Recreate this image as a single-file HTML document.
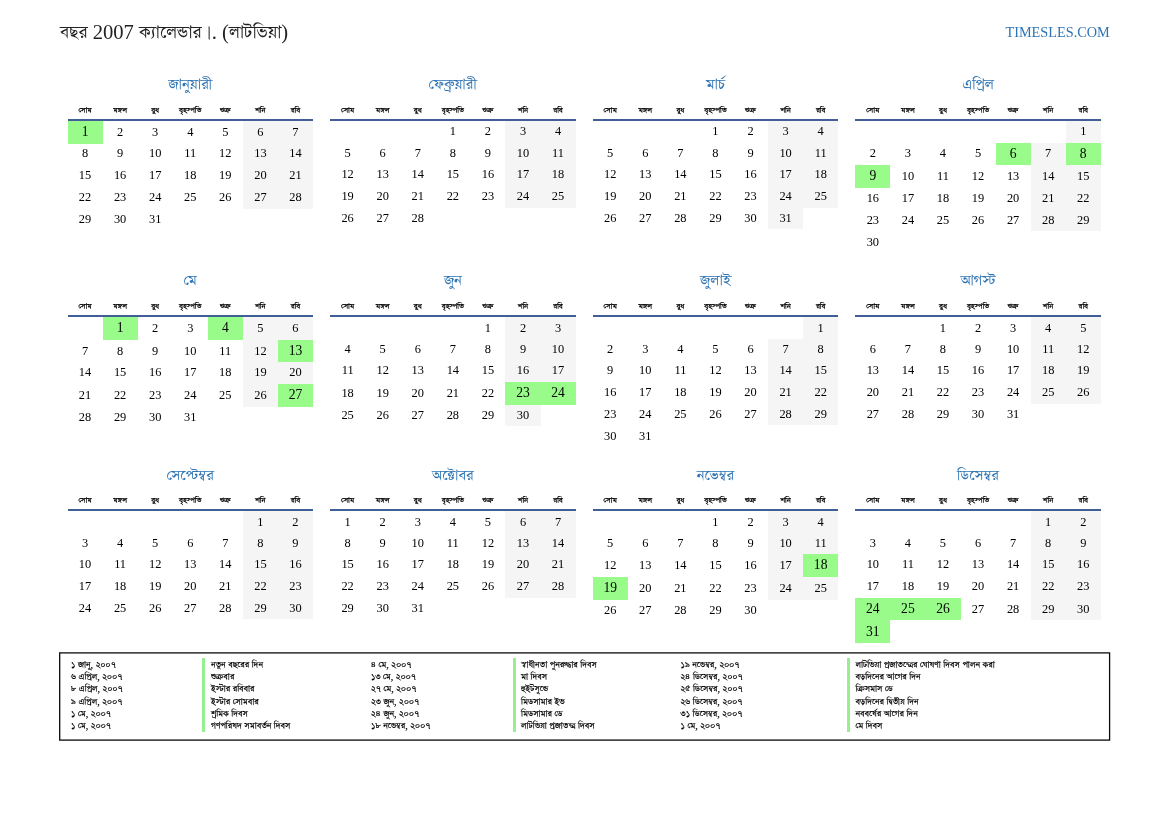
<!DOCTYPE html>
<html lang="bn"><head><meta charset="utf-8"><title>বছর 2007 ক্যালেন্ডার (লাটভিয়া)</title>
<style>
html,body{margin:0;padding:0;background:#fff}
body{width:1169px;height:827px;position:relative;overflow:hidden;font-family:"Liberation Serif","FreeSerif","FreeSans","Lohit Bengali","Noto Serif Bengali",serif;color:#000}
.a{position:absolute;white-space:nowrap}
.t{left:60px;top:18px;font-size:20.6px;line-height:28px;color:#222}
.s{right:59.3px;top:22px;font-size:14.28px;line-height:20px;color:#2e74b5}
.m{text-align:center;font-size:17.25px;line-height:24px;color:#2e74b5;width:245.5px}
.d{text-align:center;font-size:8.9px;line-height:12px;width:35.071px;color:#000;-webkit-text-stroke:0.25px #000}
.l{background:#3f5f96;width:245.5px;height:2.0px}
.c{text-align:center;font-size:12.4px;line-height:22.0px;height:22.0px;width:35.071px}
.e{font-size:13.6px;line-height:23px;height:23px}
.w{background:#f5f5f5}
.h{background:#98fb8a}
.g{font-size:10.15px;line-height:12px;-webkit-text-stroke:0.2px #000}
.b{width:2.7px;background:#96ef90}
</style></head><body>
<div class="a t">বছর 2007 ক্যালেন্ডার<span style="margin-left:2.7px">।</span>. (লাটভিয়া)</div>
<div class="a s">TIMESLES.COM</div>

<div class="a m" style="left:67.5px;top:73.1px">জানুয়ারী</div>
<div class="a d" style="left:67.50px;top:104.1px">সোম</div>
<div class="a d" style="left:102.57px;top:104.1px">মঙ্গল</div>
<div class="a d" style="left:137.64px;top:104.1px">বুধ</div>
<div class="a d" style="left:172.71px;top:104.1px">বৃহস্পতি</div>
<div class="a d" style="left:207.79px;top:104.1px">শুক্র</div>
<div class="a d" style="left:242.86px;top:104.1px">শনি</div>
<div class="a d" style="left:277.93px;top:104.1px">রবি</div>
<div class="a l" style="left:67.5px;top:119.1px"></div>
<div class="a h" style="left:68px;top:121px;width:35px;height:23px"></div>
<div class="a w" style="left:243px;top:121px;width:35px;height:23px"></div>
<div class="a w" style="left:278px;top:121px;width:35px;height:23px"></div>
<div class="a c e" style="left:67.50px;top:120.00px">1</div>
<div class="a c" style="left:102.57px;top:121.00px">2</div>
<div class="a c" style="left:137.64px;top:121.00px">3</div>
<div class="a c" style="left:172.71px;top:121.00px">4</div>
<div class="a c" style="left:207.79px;top:121.00px">5</div>
<div class="a c" style="left:242.86px;top:121.00px">6</div>
<div class="a c" style="left:277.93px;top:121.00px">7</div>
<div class="a w" style="left:243px;top:144px;width:35px;height:21px"></div>
<div class="a w" style="left:278px;top:144px;width:35px;height:21px"></div>
<div class="a c" style="left:67.50px;top:142.00px">8</div>
<div class="a c" style="left:102.57px;top:142.00px">9</div>
<div class="a c" style="left:137.64px;top:142.00px">10</div>
<div class="a c" style="left:172.71px;top:142.00px">11</div>
<div class="a c" style="left:207.79px;top:142.00px">12</div>
<div class="a c" style="left:242.86px;top:142.00px">13</div>
<div class="a c" style="left:277.93px;top:142.00px">14</div>
<div class="a w" style="left:243px;top:165px;width:35px;height:22px"></div>
<div class="a w" style="left:278px;top:165px;width:35px;height:22px"></div>
<div class="a c" style="left:67.50px;top:164.00px">15</div>
<div class="a c" style="left:102.57px;top:164.00px">16</div>
<div class="a c" style="left:137.64px;top:164.00px">17</div>
<div class="a c" style="left:172.71px;top:164.00px">18</div>
<div class="a c" style="left:207.79px;top:164.00px">19</div>
<div class="a c" style="left:242.86px;top:164.00px">20</div>
<div class="a c" style="left:277.93px;top:164.00px">21</div>
<div class="a w" style="left:243px;top:187px;width:35px;height:22px"></div>
<div class="a w" style="left:278px;top:187px;width:35px;height:22px"></div>
<div class="a c" style="left:67.50px;top:186.00px">22</div>
<div class="a c" style="left:102.57px;top:186.00px">23</div>
<div class="a c" style="left:137.64px;top:186.00px">24</div>
<div class="a c" style="left:172.71px;top:186.00px">25</div>
<div class="a c" style="left:207.79px;top:186.00px">26</div>
<div class="a c" style="left:242.86px;top:186.00px">27</div>
<div class="a c" style="left:277.93px;top:186.00px">28</div>
<div class="a c" style="left:67.50px;top:208.00px">29</div>
<div class="a c" style="left:102.57px;top:208.00px">30</div>
<div class="a c" style="left:137.64px;top:208.00px">31</div>
<div class="a m" style="left:330.1px;top:73.1px">ফেব্রুয়ারী</div>
<div class="a d" style="left:330.10px;top:104.1px">সোম</div>
<div class="a d" style="left:365.17px;top:104.1px">মঙ্গল</div>
<div class="a d" style="left:400.24px;top:104.1px">বুধ</div>
<div class="a d" style="left:435.31px;top:104.1px">বৃহস্পতি</div>
<div class="a d" style="left:470.39px;top:104.1px">শুক্র</div>
<div class="a d" style="left:505.46px;top:104.1px">শনি</div>
<div class="a d" style="left:540.53px;top:104.1px">রবি</div>
<div class="a l" style="left:330.1px;top:119.1px"></div>
<div class="a w" style="left:505px;top:121px;width:36px;height:22px"></div>
<div class="a w" style="left:541px;top:121px;width:35px;height:22px"></div>
<div class="a c" style="left:435.31px;top:120.00px">1</div>
<div class="a c" style="left:470.39px;top:120.00px">2</div>
<div class="a c" style="left:505.46px;top:120.00px">3</div>
<div class="a c" style="left:540.53px;top:120.00px">4</div>
<div class="a w" style="left:505px;top:143px;width:36px;height:21px"></div>
<div class="a w" style="left:541px;top:143px;width:35px;height:21px"></div>
<div class="a c" style="left:330.10px;top:142.00px">5</div>
<div class="a c" style="left:365.17px;top:142.00px">6</div>
<div class="a c" style="left:400.24px;top:142.00px">7</div>
<div class="a c" style="left:435.31px;top:142.00px">8</div>
<div class="a c" style="left:470.39px;top:142.00px">9</div>
<div class="a c" style="left:505.46px;top:142.00px">10</div>
<div class="a c" style="left:540.53px;top:142.00px">11</div>
<div class="a w" style="left:505px;top:164px;width:36px;height:22px"></div>
<div class="a w" style="left:541px;top:164px;width:35px;height:22px"></div>
<div class="a c" style="left:330.10px;top:163.00px">12</div>
<div class="a c" style="left:365.17px;top:163.00px">13</div>
<div class="a c" style="left:400.24px;top:163.00px">14</div>
<div class="a c" style="left:435.31px;top:163.00px">15</div>
<div class="a c" style="left:470.39px;top:163.00px">16</div>
<div class="a c" style="left:505.46px;top:163.00px">17</div>
<div class="a c" style="left:540.53px;top:163.00px">18</div>
<div class="a w" style="left:505px;top:186px;width:36px;height:22px"></div>
<div class="a w" style="left:541px;top:186px;width:35px;height:22px"></div>
<div class="a c" style="left:330.10px;top:185.00px">19</div>
<div class="a c" style="left:365.17px;top:185.00px">20</div>
<div class="a c" style="left:400.24px;top:185.00px">21</div>
<div class="a c" style="left:435.31px;top:185.00px">22</div>
<div class="a c" style="left:470.39px;top:185.00px">23</div>
<div class="a c" style="left:505.46px;top:185.00px">24</div>
<div class="a c" style="left:540.53px;top:185.00px">25</div>
<div class="a c" style="left:330.10px;top:207.00px">26</div>
<div class="a c" style="left:365.17px;top:207.00px">27</div>
<div class="a c" style="left:400.24px;top:207.00px">28</div>
<div class="a m" style="left:592.7px;top:73.1px">মার্চ</div>
<div class="a d" style="left:592.70px;top:104.1px">সোম</div>
<div class="a d" style="left:627.77px;top:104.1px">মঙ্গল</div>
<div class="a d" style="left:662.84px;top:104.1px">বুধ</div>
<div class="a d" style="left:697.91px;top:104.1px">বৃহস্পতি</div>
<div class="a d" style="left:732.99px;top:104.1px">শুক্র</div>
<div class="a d" style="left:768.06px;top:104.1px">শনি</div>
<div class="a d" style="left:803.13px;top:104.1px">রবি</div>
<div class="a l" style="left:592.7px;top:119.1px"></div>
<div class="a w" style="left:768px;top:121px;width:35px;height:22px"></div>
<div class="a w" style="left:803px;top:121px;width:35px;height:22px"></div>
<div class="a c" style="left:697.91px;top:120.00px">1</div>
<div class="a c" style="left:732.99px;top:120.00px">2</div>
<div class="a c" style="left:768.06px;top:120.00px">3</div>
<div class="a c" style="left:803.13px;top:120.00px">4</div>
<div class="a w" style="left:768px;top:143px;width:35px;height:21px"></div>
<div class="a w" style="left:803px;top:143px;width:35px;height:21px"></div>
<div class="a c" style="left:592.70px;top:142.00px">5</div>
<div class="a c" style="left:627.77px;top:142.00px">6</div>
<div class="a c" style="left:662.84px;top:142.00px">7</div>
<div class="a c" style="left:697.91px;top:142.00px">8</div>
<div class="a c" style="left:732.99px;top:142.00px">9</div>
<div class="a c" style="left:768.06px;top:142.00px">10</div>
<div class="a c" style="left:803.13px;top:142.00px">11</div>
<div class="a w" style="left:768px;top:164px;width:35px;height:22px"></div>
<div class="a w" style="left:803px;top:164px;width:35px;height:22px"></div>
<div class="a c" style="left:592.70px;top:163.00px">12</div>
<div class="a c" style="left:627.77px;top:163.00px">13</div>
<div class="a c" style="left:662.84px;top:163.00px">14</div>
<div class="a c" style="left:697.91px;top:163.00px">15</div>
<div class="a c" style="left:732.99px;top:163.00px">16</div>
<div class="a c" style="left:768.06px;top:163.00px">17</div>
<div class="a c" style="left:803.13px;top:163.00px">18</div>
<div class="a w" style="left:768px;top:186px;width:35px;height:22px"></div>
<div class="a w" style="left:803px;top:186px;width:35px;height:22px"></div>
<div class="a c" style="left:592.70px;top:185.00px">19</div>
<div class="a c" style="left:627.77px;top:185.00px">20</div>
<div class="a c" style="left:662.84px;top:185.00px">21</div>
<div class="a c" style="left:697.91px;top:185.00px">22</div>
<div class="a c" style="left:732.99px;top:185.00px">23</div>
<div class="a c" style="left:768.06px;top:185.00px">24</div>
<div class="a c" style="left:803.13px;top:185.00px">25</div>
<div class="a w" style="left:768px;top:208px;width:35px;height:21px"></div>
<div class="a c" style="left:592.70px;top:207.00px">26</div>
<div class="a c" style="left:627.77px;top:207.00px">27</div>
<div class="a c" style="left:662.84px;top:207.00px">28</div>
<div class="a c" style="left:697.91px;top:207.00px">29</div>
<div class="a c" style="left:732.99px;top:207.00px">30</div>
<div class="a c" style="left:768.06px;top:207.00px">31</div>
<div class="a m" style="left:855.3px;top:73.1px">এপ্রিল</div>
<div class="a d" style="left:855.30px;top:104.1px">সোম</div>
<div class="a d" style="left:890.37px;top:104.1px">মঙ্গল</div>
<div class="a d" style="left:925.44px;top:104.1px">বুধ</div>
<div class="a d" style="left:960.51px;top:104.1px">বৃহস্পতি</div>
<div class="a d" style="left:995.59px;top:104.1px">শুক্র</div>
<div class="a d" style="left:1030.66px;top:104.1px">শনি</div>
<div class="a d" style="left:1065.73px;top:104.1px">রবি</div>
<div class="a l" style="left:855.3px;top:119.1px"></div>
<div class="a w" style="left:1066px;top:121px;width:35px;height:22px"></div>
<div class="a c" style="left:1065.73px;top:120.00px">1</div>
<div class="a h" style="left:996px;top:143px;width:35px;height:22px"></div>
<div class="a w" style="left:1031px;top:143px;width:35px;height:22px"></div>
<div class="a h" style="left:1066px;top:143px;width:35px;height:22px"></div>
<div class="a c" style="left:855.30px;top:142.00px">2</div>
<div class="a c" style="left:890.37px;top:142.00px">3</div>
<div class="a c" style="left:925.44px;top:142.00px">4</div>
<div class="a c" style="left:960.51px;top:142.00px">5</div>
<div class="a c e" style="left:995.59px;top:142.00px">6</div>
<div class="a c" style="left:1030.66px;top:142.00px">7</div>
<div class="a c e" style="left:1065.73px;top:142.00px">8</div>
<div class="a h" style="left:855px;top:165px;width:35px;height:23px"></div>
<div class="a w" style="left:1031px;top:165px;width:35px;height:23px"></div>
<div class="a w" style="left:1066px;top:165px;width:35px;height:23px"></div>
<div class="a c e" style="left:855.30px;top:164.00px">9</div>
<div class="a c" style="left:890.37px;top:165.00px">10</div>
<div class="a c" style="left:925.44px;top:165.00px">11</div>
<div class="a c" style="left:960.51px;top:165.00px">12</div>
<div class="a c" style="left:995.59px;top:165.00px">13</div>
<div class="a c" style="left:1030.66px;top:165.00px">14</div>
<div class="a c" style="left:1065.73px;top:165.00px">15</div>
<div class="a w" style="left:1031px;top:188px;width:35px;height:22px"></div>
<div class="a w" style="left:1066px;top:188px;width:35px;height:22px"></div>
<div class="a c" style="left:855.30px;top:187.00px">16</div>
<div class="a c" style="left:890.37px;top:187.00px">17</div>
<div class="a c" style="left:925.44px;top:187.00px">18</div>
<div class="a c" style="left:960.51px;top:187.00px">19</div>
<div class="a c" style="left:995.59px;top:187.00px">20</div>
<div class="a c" style="left:1030.66px;top:187.00px">21</div>
<div class="a c" style="left:1065.73px;top:187.00px">22</div>
<div class="a w" style="left:1031px;top:210px;width:35px;height:21px"></div>
<div class="a w" style="left:1066px;top:210px;width:35px;height:21px"></div>
<div class="a c" style="left:855.30px;top:209.00px">23</div>
<div class="a c" style="left:890.37px;top:209.00px">24</div>
<div class="a c" style="left:925.44px;top:209.00px">25</div>
<div class="a c" style="left:960.51px;top:209.00px">26</div>
<div class="a c" style="left:995.59px;top:209.00px">27</div>
<div class="a c" style="left:1030.66px;top:209.00px">28</div>
<div class="a c" style="left:1065.73px;top:209.00px">29</div>
<div class="a c" style="left:855.30px;top:231.00px">30</div>
<div class="a m" style="left:67.5px;top:269.1px">মে</div>
<div class="a d" style="left:67.50px;top:300.1px">সোম</div>
<div class="a d" style="left:102.57px;top:300.1px">মঙ্গল</div>
<div class="a d" style="left:137.64px;top:300.1px">বুধ</div>
<div class="a d" style="left:172.71px;top:300.1px">বৃহস্পতি</div>
<div class="a d" style="left:207.79px;top:300.1px">শুক্র</div>
<div class="a d" style="left:242.86px;top:300.1px">শনি</div>
<div class="a d" style="left:277.93px;top:300.1px">রবি</div>
<div class="a l" style="left:67.5px;top:315.1px"></div>
<div class="a h" style="left:103px;top:317px;width:35px;height:23px"></div>
<div class="a h" style="left:208px;top:317px;width:35px;height:23px"></div>
<div class="a w" style="left:243px;top:317px;width:35px;height:23px"></div>
<div class="a w" style="left:278px;top:317px;width:35px;height:23px"></div>
<div class="a c e" style="left:102.57px;top:316.00px">1</div>
<div class="a c" style="left:137.64px;top:317.00px">2</div>
<div class="a c" style="left:172.71px;top:317.00px">3</div>
<div class="a c e" style="left:207.79px;top:316.00px">4</div>
<div class="a c" style="left:242.86px;top:317.00px">5</div>
<div class="a c" style="left:277.93px;top:317.00px">6</div>
<div class="a w" style="left:243px;top:340px;width:35px;height:22px"></div>
<div class="a h" style="left:278px;top:340px;width:35px;height:22px"></div>
<div class="a c" style="left:67.50px;top:340.00px">7</div>
<div class="a c" style="left:102.57px;top:340.00px">8</div>
<div class="a c" style="left:137.64px;top:340.00px">9</div>
<div class="a c" style="left:172.71px;top:340.00px">10</div>
<div class="a c" style="left:207.79px;top:340.00px">11</div>
<div class="a c" style="left:242.86px;top:340.00px">12</div>
<div class="a c e" style="left:277.93px;top:339.00px">13</div>
<div class="a w" style="left:243px;top:362px;width:35px;height:22px"></div>
<div class="a w" style="left:278px;top:362px;width:35px;height:22px"></div>
<div class="a c" style="left:67.50px;top:361.00px">14</div>
<div class="a c" style="left:102.57px;top:361.00px">15</div>
<div class="a c" style="left:137.64px;top:361.00px">16</div>
<div class="a c" style="left:172.71px;top:361.00px">17</div>
<div class="a c" style="left:207.79px;top:361.00px">18</div>
<div class="a c" style="left:242.86px;top:361.00px">19</div>
<div class="a c" style="left:277.93px;top:361.00px">20</div>
<div class="a w" style="left:243px;top:384px;width:35px;height:23px"></div>
<div class="a h" style="left:278px;top:384px;width:35px;height:23px"></div>
<div class="a c" style="left:67.50px;top:384.00px">21</div>
<div class="a c" style="left:102.57px;top:384.00px">22</div>
<div class="a c" style="left:137.64px;top:384.00px">23</div>
<div class="a c" style="left:172.71px;top:384.00px">24</div>
<div class="a c" style="left:207.79px;top:384.00px">25</div>
<div class="a c" style="left:242.86px;top:384.00px">26</div>
<div class="a c e" style="left:277.93px;top:383.00px">27</div>
<div class="a c" style="left:67.50px;top:406.00px">28</div>
<div class="a c" style="left:102.57px;top:406.00px">29</div>
<div class="a c" style="left:137.64px;top:406.00px">30</div>
<div class="a c" style="left:172.71px;top:406.00px">31</div>
<div class="a m" style="left:330.1px;top:269.1px">জুন</div>
<div class="a d" style="left:330.10px;top:300.1px">সোম</div>
<div class="a d" style="left:365.17px;top:300.1px">মঙ্গল</div>
<div class="a d" style="left:400.24px;top:300.1px">বুধ</div>
<div class="a d" style="left:435.31px;top:300.1px">বৃহস্পতি</div>
<div class="a d" style="left:470.39px;top:300.1px">শুক্র</div>
<div class="a d" style="left:505.46px;top:300.1px">শনি</div>
<div class="a d" style="left:540.53px;top:300.1px">রবি</div>
<div class="a l" style="left:330.1px;top:315.1px"></div>
<div class="a w" style="left:505px;top:317px;width:36px;height:22px"></div>
<div class="a w" style="left:541px;top:317px;width:35px;height:22px"></div>
<div class="a c" style="left:470.39px;top:317.00px">1</div>
<div class="a c" style="left:505.46px;top:317.00px">2</div>
<div class="a c" style="left:540.53px;top:317.00px">3</div>
<div class="a w" style="left:505px;top:339px;width:36px;height:21px"></div>
<div class="a w" style="left:541px;top:339px;width:35px;height:21px"></div>
<div class="a c" style="left:330.10px;top:338.00px">4</div>
<div class="a c" style="left:365.17px;top:338.00px">5</div>
<div class="a c" style="left:400.24px;top:338.00px">6</div>
<div class="a c" style="left:435.31px;top:338.00px">7</div>
<div class="a c" style="left:470.39px;top:338.00px">8</div>
<div class="a c" style="left:505.46px;top:338.00px">9</div>
<div class="a c" style="left:540.53px;top:338.00px">10</div>
<div class="a w" style="left:505px;top:360px;width:36px;height:22px"></div>
<div class="a w" style="left:541px;top:360px;width:35px;height:22px"></div>
<div class="a c" style="left:330.10px;top:359.00px">11</div>
<div class="a c" style="left:365.17px;top:359.00px">12</div>
<div class="a c" style="left:400.24px;top:359.00px">13</div>
<div class="a c" style="left:435.31px;top:359.00px">14</div>
<div class="a c" style="left:470.39px;top:359.00px">15</div>
<div class="a c" style="left:505.46px;top:359.00px">16</div>
<div class="a c" style="left:540.53px;top:359.00px">17</div>
<div class="a h" style="left:505px;top:382px;width:36px;height:23px"></div>
<div class="a h" style="left:541px;top:382px;width:35px;height:23px"></div>
<div class="a c" style="left:330.10px;top:382.00px">18</div>
<div class="a c" style="left:365.17px;top:382.00px">19</div>
<div class="a c" style="left:400.24px;top:382.00px">20</div>
<div class="a c" style="left:435.31px;top:382.00px">21</div>
<div class="a c" style="left:470.39px;top:382.00px">22</div>
<div class="a c e" style="left:505.46px;top:381.00px">23</div>
<div class="a c e" style="left:540.53px;top:381.00px">24</div>
<div class="a w" style="left:505px;top:405px;width:36px;height:21px"></div>
<div class="a c" style="left:330.10px;top:404.00px">25</div>
<div class="a c" style="left:365.17px;top:404.00px">26</div>
<div class="a c" style="left:400.24px;top:404.00px">27</div>
<div class="a c" style="left:435.31px;top:404.00px">28</div>
<div class="a c" style="left:470.39px;top:404.00px">29</div>
<div class="a c" style="left:505.46px;top:404.00px">30</div>
<div class="a m" style="left:592.7px;top:269.1px">জুলাই</div>
<div class="a d" style="left:592.70px;top:300.1px">সোম</div>
<div class="a d" style="left:627.77px;top:300.1px">মঙ্গল</div>
<div class="a d" style="left:662.84px;top:300.1px">বুধ</div>
<div class="a d" style="left:697.91px;top:300.1px">বৃহস্পতি</div>
<div class="a d" style="left:732.99px;top:300.1px">শুক্র</div>
<div class="a d" style="left:768.06px;top:300.1px">শনি</div>
<div class="a d" style="left:803.13px;top:300.1px">রবি</div>
<div class="a l" style="left:592.7px;top:315.1px"></div>
<div class="a w" style="left:803px;top:317px;width:35px;height:22px"></div>
<div class="a c" style="left:803.13px;top:317.00px">1</div>
<div class="a w" style="left:768px;top:339px;width:35px;height:21px"></div>
<div class="a w" style="left:803px;top:339px;width:35px;height:21px"></div>
<div class="a c" style="left:592.70px;top:338.00px">2</div>
<div class="a c" style="left:627.77px;top:338.00px">3</div>
<div class="a c" style="left:662.84px;top:338.00px">4</div>
<div class="a c" style="left:697.91px;top:338.00px">5</div>
<div class="a c" style="left:732.99px;top:338.00px">6</div>
<div class="a c" style="left:768.06px;top:338.00px">7</div>
<div class="a c" style="left:803.13px;top:338.00px">8</div>
<div class="a w" style="left:768px;top:360px;width:35px;height:22px"></div>
<div class="a w" style="left:803px;top:360px;width:35px;height:22px"></div>
<div class="a c" style="left:592.70px;top:359.00px">9</div>
<div class="a c" style="left:627.77px;top:359.00px">10</div>
<div class="a c" style="left:662.84px;top:359.00px">11</div>
<div class="a c" style="left:697.91px;top:359.00px">12</div>
<div class="a c" style="left:732.99px;top:359.00px">13</div>
<div class="a c" style="left:768.06px;top:359.00px">14</div>
<div class="a c" style="left:803.13px;top:359.00px">15</div>
<div class="a w" style="left:768px;top:382px;width:35px;height:22px"></div>
<div class="a w" style="left:803px;top:382px;width:35px;height:22px"></div>
<div class="a c" style="left:592.70px;top:381.00px">16</div>
<div class="a c" style="left:627.77px;top:381.00px">17</div>
<div class="a c" style="left:662.84px;top:381.00px">18</div>
<div class="a c" style="left:697.91px;top:381.00px">19</div>
<div class="a c" style="left:732.99px;top:381.00px">20</div>
<div class="a c" style="left:768.06px;top:381.00px">21</div>
<div class="a c" style="left:803.13px;top:381.00px">22</div>
<div class="a w" style="left:768px;top:404px;width:35px;height:21px"></div>
<div class="a w" style="left:803px;top:404px;width:35px;height:21px"></div>
<div class="a c" style="left:592.70px;top:403.00px">23</div>
<div class="a c" style="left:627.77px;top:403.00px">24</div>
<div class="a c" style="left:662.84px;top:403.00px">25</div>
<div class="a c" style="left:697.91px;top:403.00px">26</div>
<div class="a c" style="left:732.99px;top:403.00px">27</div>
<div class="a c" style="left:768.06px;top:403.00px">28</div>
<div class="a c" style="left:803.13px;top:403.00px">29</div>
<div class="a c" style="left:592.70px;top:425.00px">30</div>
<div class="a c" style="left:627.77px;top:425.00px">31</div>
<div class="a m" style="left:855.3px;top:269.1px">আগস্ট</div>
<div class="a d" style="left:855.30px;top:300.1px">সোম</div>
<div class="a d" style="left:890.37px;top:300.1px">মঙ্গল</div>
<div class="a d" style="left:925.44px;top:300.1px">বুধ</div>
<div class="a d" style="left:960.51px;top:300.1px">বৃহস্পতি</div>
<div class="a d" style="left:995.59px;top:300.1px">শুক্র</div>
<div class="a d" style="left:1030.66px;top:300.1px">শনি</div>
<div class="a d" style="left:1065.73px;top:300.1px">রবি</div>
<div class="a l" style="left:855.3px;top:315.1px"></div>
<div class="a w" style="left:1031px;top:317px;width:35px;height:22px"></div>
<div class="a w" style="left:1066px;top:317px;width:35px;height:22px"></div>
<div class="a c" style="left:925.44px;top:317.00px">1</div>
<div class="a c" style="left:960.51px;top:317.00px">2</div>
<div class="a c" style="left:995.59px;top:317.00px">3</div>
<div class="a c" style="left:1030.66px;top:317.00px">4</div>
<div class="a c" style="left:1065.73px;top:317.00px">5</div>
<div class="a w" style="left:1031px;top:339px;width:35px;height:21px"></div>
<div class="a w" style="left:1066px;top:339px;width:35px;height:21px"></div>
<div class="a c" style="left:855.30px;top:338.00px">6</div>
<div class="a c" style="left:890.37px;top:338.00px">7</div>
<div class="a c" style="left:925.44px;top:338.00px">8</div>
<div class="a c" style="left:960.51px;top:338.00px">9</div>
<div class="a c" style="left:995.59px;top:338.00px">10</div>
<div class="a c" style="left:1030.66px;top:338.00px">11</div>
<div class="a c" style="left:1065.73px;top:338.00px">12</div>
<div class="a w" style="left:1031px;top:360px;width:35px;height:22px"></div>
<div class="a w" style="left:1066px;top:360px;width:35px;height:22px"></div>
<div class="a c" style="left:855.30px;top:359.00px">13</div>
<div class="a c" style="left:890.37px;top:359.00px">14</div>
<div class="a c" style="left:925.44px;top:359.00px">15</div>
<div class="a c" style="left:960.51px;top:359.00px">16</div>
<div class="a c" style="left:995.59px;top:359.00px">17</div>
<div class="a c" style="left:1030.66px;top:359.00px">18</div>
<div class="a c" style="left:1065.73px;top:359.00px">19</div>
<div class="a w" style="left:1031px;top:382px;width:35px;height:22px"></div>
<div class="a w" style="left:1066px;top:382px;width:35px;height:22px"></div>
<div class="a c" style="left:855.30px;top:381.00px">20</div>
<div class="a c" style="left:890.37px;top:381.00px">21</div>
<div class="a c" style="left:925.44px;top:381.00px">22</div>
<div class="a c" style="left:960.51px;top:381.00px">23</div>
<div class="a c" style="left:995.59px;top:381.00px">24</div>
<div class="a c" style="left:1030.66px;top:381.00px">25</div>
<div class="a c" style="left:1065.73px;top:381.00px">26</div>
<div class="a c" style="left:855.30px;top:403.00px">27</div>
<div class="a c" style="left:890.37px;top:403.00px">28</div>
<div class="a c" style="left:925.44px;top:403.00px">29</div>
<div class="a c" style="left:960.51px;top:403.00px">30</div>
<div class="a c" style="left:995.59px;top:403.00px">31</div>
<div class="a m" style="left:67.5px;top:464.2px">সেপ্টেম্বর</div>
<div class="a d" style="left:67.50px;top:494.2px">সোম</div>
<div class="a d" style="left:102.57px;top:494.2px">মঙ্গল</div>
<div class="a d" style="left:137.64px;top:494.2px">বুধ</div>
<div class="a d" style="left:172.71px;top:494.2px">বৃহস্পতি</div>
<div class="a d" style="left:207.79px;top:494.2px">শুক্র</div>
<div class="a d" style="left:242.86px;top:494.2px">শনি</div>
<div class="a d" style="left:277.93px;top:494.2px">রবি</div>
<div class="a l" style="left:67.5px;top:509.2px"></div>
<div class="a w" style="left:243px;top:511px;width:35px;height:22px"></div>
<div class="a w" style="left:278px;top:511px;width:35px;height:22px"></div>
<div class="a c" style="left:242.86px;top:511.00px">1</div>
<div class="a c" style="left:277.93px;top:511.00px">2</div>
<div class="a w" style="left:243px;top:533px;width:35px;height:21px"></div>
<div class="a w" style="left:278px;top:533px;width:35px;height:21px"></div>
<div class="a c" style="left:67.50px;top:532.00px">3</div>
<div class="a c" style="left:102.57px;top:532.00px">4</div>
<div class="a c" style="left:137.64px;top:532.00px">5</div>
<div class="a c" style="left:172.71px;top:532.00px">6</div>
<div class="a c" style="left:207.79px;top:532.00px">7</div>
<div class="a c" style="left:242.86px;top:532.00px">8</div>
<div class="a c" style="left:277.93px;top:532.00px">9</div>
<div class="a w" style="left:243px;top:554px;width:35px;height:22px"></div>
<div class="a w" style="left:278px;top:554px;width:35px;height:22px"></div>
<div class="a c" style="left:67.50px;top:553.00px">10</div>
<div class="a c" style="left:102.57px;top:553.00px">11</div>
<div class="a c" style="left:137.64px;top:553.00px">12</div>
<div class="a c" style="left:172.71px;top:553.00px">13</div>
<div class="a c" style="left:207.79px;top:553.00px">14</div>
<div class="a c" style="left:242.86px;top:553.00px">15</div>
<div class="a c" style="left:277.93px;top:553.00px">16</div>
<div class="a w" style="left:243px;top:576px;width:35px;height:22px"></div>
<div class="a w" style="left:278px;top:576px;width:35px;height:22px"></div>
<div class="a c" style="left:67.50px;top:575.00px">17</div>
<div class="a c" style="left:102.57px;top:575.00px">18</div>
<div class="a c" style="left:137.64px;top:575.00px">19</div>
<div class="a c" style="left:172.71px;top:575.00px">20</div>
<div class="a c" style="left:207.79px;top:575.00px">21</div>
<div class="a c" style="left:242.86px;top:575.00px">22</div>
<div class="a c" style="left:277.93px;top:575.00px">23</div>
<div class="a w" style="left:243px;top:598px;width:35px;height:21px"></div>
<div class="a w" style="left:278px;top:598px;width:35px;height:21px"></div>
<div class="a c" style="left:67.50px;top:597.00px">24</div>
<div class="a c" style="left:102.57px;top:597.00px">25</div>
<div class="a c" style="left:137.64px;top:597.00px">26</div>
<div class="a c" style="left:172.71px;top:597.00px">27</div>
<div class="a c" style="left:207.79px;top:597.00px">28</div>
<div class="a c" style="left:242.86px;top:597.00px">29</div>
<div class="a c" style="left:277.93px;top:597.00px">30</div>
<div class="a m" style="left:330.1px;top:464.2px">অক্টোবর</div>
<div class="a d" style="left:330.10px;top:494.2px">সোম</div>
<div class="a d" style="left:365.17px;top:494.2px">মঙ্গল</div>
<div class="a d" style="left:400.24px;top:494.2px">বুধ</div>
<div class="a d" style="left:435.31px;top:494.2px">বৃহস্পতি</div>
<div class="a d" style="left:470.39px;top:494.2px">শুক্র</div>
<div class="a d" style="left:505.46px;top:494.2px">শনি</div>
<div class="a d" style="left:540.53px;top:494.2px">রবি</div>
<div class="a l" style="left:330.1px;top:509.2px"></div>
<div class="a w" style="left:505px;top:511px;width:36px;height:22px"></div>
<div class="a w" style="left:541px;top:511px;width:35px;height:22px"></div>
<div class="a c" style="left:330.10px;top:511.00px">1</div>
<div class="a c" style="left:365.17px;top:511.00px">2</div>
<div class="a c" style="left:400.24px;top:511.00px">3</div>
<div class="a c" style="left:435.31px;top:511.00px">4</div>
<div class="a c" style="left:470.39px;top:511.00px">5</div>
<div class="a c" style="left:505.46px;top:511.00px">6</div>
<div class="a c" style="left:540.53px;top:511.00px">7</div>
<div class="a w" style="left:505px;top:533px;width:36px;height:21px"></div>
<div class="a w" style="left:541px;top:533px;width:35px;height:21px"></div>
<div class="a c" style="left:330.10px;top:532.00px">8</div>
<div class="a c" style="left:365.17px;top:532.00px">9</div>
<div class="a c" style="left:400.24px;top:532.00px">10</div>
<div class="a c" style="left:435.31px;top:532.00px">11</div>
<div class="a c" style="left:470.39px;top:532.00px">12</div>
<div class="a c" style="left:505.46px;top:532.00px">13</div>
<div class="a c" style="left:540.53px;top:532.00px">14</div>
<div class="a w" style="left:505px;top:554px;width:36px;height:22px"></div>
<div class="a w" style="left:541px;top:554px;width:35px;height:22px"></div>
<div class="a c" style="left:330.10px;top:553.00px">15</div>
<div class="a c" style="left:365.17px;top:553.00px">16</div>
<div class="a c" style="left:400.24px;top:553.00px">17</div>
<div class="a c" style="left:435.31px;top:553.00px">18</div>
<div class="a c" style="left:470.39px;top:553.00px">19</div>
<div class="a c" style="left:505.46px;top:553.00px">20</div>
<div class="a c" style="left:540.53px;top:553.00px">21</div>
<div class="a w" style="left:505px;top:576px;width:36px;height:22px"></div>
<div class="a w" style="left:541px;top:576px;width:35px;height:22px"></div>
<div class="a c" style="left:330.10px;top:575.00px">22</div>
<div class="a c" style="left:365.17px;top:575.00px">23</div>
<div class="a c" style="left:400.24px;top:575.00px">24</div>
<div class="a c" style="left:435.31px;top:575.00px">25</div>
<div class="a c" style="left:470.39px;top:575.00px">26</div>
<div class="a c" style="left:505.46px;top:575.00px">27</div>
<div class="a c" style="left:540.53px;top:575.00px">28</div>
<div class="a c" style="left:330.10px;top:597.00px">29</div>
<div class="a c" style="left:365.17px;top:597.00px">30</div>
<div class="a c" style="left:400.24px;top:597.00px">31</div>
<div class="a m" style="left:592.7px;top:464.2px">নভেম্বর</div>
<div class="a d" style="left:592.70px;top:494.2px">সোম</div>
<div class="a d" style="left:627.77px;top:494.2px">মঙ্গল</div>
<div class="a d" style="left:662.84px;top:494.2px">বুধ</div>
<div class="a d" style="left:697.91px;top:494.2px">বৃহস্পতি</div>
<div class="a d" style="left:732.99px;top:494.2px">শুক্র</div>
<div class="a d" style="left:768.06px;top:494.2px">শনি</div>
<div class="a d" style="left:803.13px;top:494.2px">রবি</div>
<div class="a l" style="left:592.7px;top:509.2px"></div>
<div class="a w" style="left:768px;top:511px;width:35px;height:22px"></div>
<div class="a w" style="left:803px;top:511px;width:35px;height:22px"></div>
<div class="a c" style="left:697.91px;top:511.00px">1</div>
<div class="a c" style="left:732.99px;top:511.00px">2</div>
<div class="a c" style="left:768.06px;top:511.00px">3</div>
<div class="a c" style="left:803.13px;top:511.00px">4</div>
<div class="a w" style="left:768px;top:533px;width:35px;height:21px"></div>
<div class="a w" style="left:803px;top:533px;width:35px;height:21px"></div>
<div class="a c" style="left:592.70px;top:532.00px">5</div>
<div class="a c" style="left:627.77px;top:532.00px">6</div>
<div class="a c" style="left:662.84px;top:532.00px">7</div>
<div class="a c" style="left:697.91px;top:532.00px">8</div>
<div class="a c" style="left:732.99px;top:532.00px">9</div>
<div class="a c" style="left:768.06px;top:532.00px">10</div>
<div class="a c" style="left:803.13px;top:532.00px">11</div>
<div class="a w" style="left:768px;top:554px;width:35px;height:23px"></div>
<div class="a h" style="left:803px;top:554px;width:35px;height:23px"></div>
<div class="a c" style="left:592.70px;top:554.00px">12</div>
<div class="a c" style="left:627.77px;top:554.00px">13</div>
<div class="a c" style="left:662.84px;top:554.00px">14</div>
<div class="a c" style="left:697.91px;top:554.00px">15</div>
<div class="a c" style="left:732.99px;top:554.00px">16</div>
<div class="a c" style="left:768.06px;top:554.00px">17</div>
<div class="a c e" style="left:803.13px;top:553.00px">18</div>
<div class="a h" style="left:593px;top:577px;width:35px;height:23px"></div>
<div class="a w" style="left:768px;top:577px;width:35px;height:23px"></div>
<div class="a w" style="left:803px;top:577px;width:35px;height:23px"></div>
<div class="a c e" style="left:592.70px;top:576.00px">19</div>
<div class="a c" style="left:627.77px;top:577.00px">20</div>
<div class="a c" style="left:662.84px;top:577.00px">21</div>
<div class="a c" style="left:697.91px;top:577.00px">22</div>
<div class="a c" style="left:732.99px;top:577.00px">23</div>
<div class="a c" style="left:768.06px;top:577.00px">24</div>
<div class="a c" style="left:803.13px;top:577.00px">25</div>
<div class="a c" style="left:592.70px;top:599.00px">26</div>
<div class="a c" style="left:627.77px;top:599.00px">27</div>
<div class="a c" style="left:662.84px;top:599.00px">28</div>
<div class="a c" style="left:697.91px;top:599.00px">29</div>
<div class="a c" style="left:732.99px;top:599.00px">30</div>
<div class="a m" style="left:855.3px;top:464.2px">ডিসেম্বর</div>
<div class="a d" style="left:855.30px;top:494.2px">সোম</div>
<div class="a d" style="left:890.37px;top:494.2px">মঙ্গল</div>
<div class="a d" style="left:925.44px;top:494.2px">বুধ</div>
<div class="a d" style="left:960.51px;top:494.2px">বৃহস্পতি</div>
<div class="a d" style="left:995.59px;top:494.2px">শুক্র</div>
<div class="a d" style="left:1030.66px;top:494.2px">শনি</div>
<div class="a d" style="left:1065.73px;top:494.2px">রবি</div>
<div class="a l" style="left:855.3px;top:509.2px"></div>
<div class="a w" style="left:1031px;top:511px;width:35px;height:22px"></div>
<div class="a w" style="left:1066px;top:511px;width:35px;height:22px"></div>
<div class="a c" style="left:1030.66px;top:511.00px">1</div>
<div class="a c" style="left:1065.73px;top:511.00px">2</div>
<div class="a w" style="left:1031px;top:533px;width:35px;height:21px"></div>
<div class="a w" style="left:1066px;top:533px;width:35px;height:21px"></div>
<div class="a c" style="left:855.30px;top:532.00px">3</div>
<div class="a c" style="left:890.37px;top:532.00px">4</div>
<div class="a c" style="left:925.44px;top:532.00px">5</div>
<div class="a c" style="left:960.51px;top:532.00px">6</div>
<div class="a c" style="left:995.59px;top:532.00px">7</div>
<div class="a c" style="left:1030.66px;top:532.00px">8</div>
<div class="a c" style="left:1065.73px;top:532.00px">9</div>
<div class="a w" style="left:1031px;top:554px;width:35px;height:22px"></div>
<div class="a w" style="left:1066px;top:554px;width:35px;height:22px"></div>
<div class="a c" style="left:855.30px;top:553.00px">10</div>
<div class="a c" style="left:890.37px;top:553.00px">11</div>
<div class="a c" style="left:925.44px;top:553.00px">12</div>
<div class="a c" style="left:960.51px;top:553.00px">13</div>
<div class="a c" style="left:995.59px;top:553.00px">14</div>
<div class="a c" style="left:1030.66px;top:553.00px">15</div>
<div class="a c" style="left:1065.73px;top:553.00px">16</div>
<div class="a w" style="left:1031px;top:576px;width:35px;height:22px"></div>
<div class="a w" style="left:1066px;top:576px;width:35px;height:22px"></div>
<div class="a c" style="left:855.30px;top:575.00px">17</div>
<div class="a c" style="left:890.37px;top:575.00px">18</div>
<div class="a c" style="left:925.44px;top:575.00px">19</div>
<div class="a c" style="left:960.51px;top:575.00px">20</div>
<div class="a c" style="left:995.59px;top:575.00px">21</div>
<div class="a c" style="left:1030.66px;top:575.00px">22</div>
<div class="a c" style="left:1065.73px;top:575.00px">23</div>
<div class="a h" style="left:855px;top:598px;width:35px;height:22px"></div>
<div class="a h" style="left:890px;top:598px;width:35px;height:22px"></div>
<div class="a h" style="left:925px;top:598px;width:36px;height:22px"></div>
<div class="a w" style="left:1031px;top:598px;width:35px;height:22px"></div>
<div class="a w" style="left:1066px;top:598px;width:35px;height:22px"></div>
<div class="a c e" style="left:855.30px;top:597.00px">24</div>
<div class="a c e" style="left:890.37px;top:597.00px">25</div>
<div class="a c e" style="left:925.44px;top:597.00px">26</div>
<div class="a c" style="left:960.51px;top:598.00px">27</div>
<div class="a c" style="left:995.59px;top:598.00px">28</div>
<div class="a c" style="left:1030.66px;top:598.00px">29</div>
<div class="a c" style="left:1065.73px;top:598.00px">30</div>
<div class="a h" style="left:855px;top:620px;width:35px;height:23px"></div>
<div class="a c e" style="left:855.30px;top:620.00px">31</div>
<svg class="a" style="left:0;top:640px" width="1169" height="110" viewBox="0 640 1169 110"><rect x="59.7" y="652.9" width="1049.9" height="87.2" fill="none" stroke="#0a0a0a" stroke-width="1.3"/></svg>
<div class="a b" style="left:202.4px;top:658px;height:74.2px"></div>
<div class="a g" style="left:71.1px;top:658.6px">১ জানু, ২০০৭</div>
<div class="a g" style="left:211.0px;top:658.6px">নতুন বছরের দিন</div>
<div class="a g" style="left:71.1px;top:671.0px">৬ এপ্রিল, ২০০৭</div>
<div class="a g" style="left:211.0px;top:671.0px">শুক্রবার</div>
<div class="a g" style="left:71.1px;top:683.3px">৮ এপ্রিল, ২০০৭</div>
<div class="a g" style="left:211.0px;top:683.3px">ইস্টার রবিবার</div>
<div class="a g" style="left:71.1px;top:695.6px">৯ এপ্রিল, ২০০৭</div>
<div class="a g" style="left:211.0px;top:695.6px">ইস্টার সোমবার</div>
<div class="a g" style="left:71.1px;top:708.0px">১ মে, ২০০৭</div>
<div class="a g" style="left:211.0px;top:708.0px">শ্রমিক দিবস</div>
<div class="a g" style="left:71.1px;top:720.4px">১ মে, ২০০৭</div>
<div class="a g" style="left:211.0px;top:720.4px">গণপরিষদ সমাবর্তন দিবস</div>
<div class="a b" style="left:513.0px;top:658px;height:74.2px"></div>
<div class="a g" style="left:371.0px;top:658.6px">৪ মে, ২০০৭</div>
<div class="a g" style="left:521.0px;top:658.6px">স্বাধীনতা পুনরুদ্ধার দিবস</div>
<div class="a g" style="left:371.0px;top:671.0px">১৩ মে, ২০০৭</div>
<div class="a g" style="left:521.0px;top:671.0px">মা দিবস</div>
<div class="a g" style="left:371.0px;top:683.3px">২৭ মে, ২০০৭</div>
<div class="a g" style="left:521.0px;top:683.3px">হুইটসুন্ডে</div>
<div class="a g" style="left:371.0px;top:695.6px">২৩ জুন, ২০০৭</div>
<div class="a g" style="left:521.0px;top:695.6px">মিডসামার ইভ</div>
<div class="a g" style="left:371.0px;top:708.0px">২৪ জুন, ২০০৭</div>
<div class="a g" style="left:521.0px;top:708.0px">মিডসামার ডে</div>
<div class="a g" style="left:371.0px;top:720.4px">১৮ নভেম্বর, ২০০৭</div>
<div class="a g" style="left:521.0px;top:720.4px">লাটভিয়া প্রজাতন্ত্র দিবস</div>
<div class="a b" style="left:847.0px;top:658px;height:74.2px"></div>
<div class="a g" style="left:680.5px;top:658.6px">১৯ নভেম্বর, ২০০৭</div>
<div class="a g" style="left:855.5px;top:658.6px">লাটভিয়া প্রজাতন্ত্রের ঘোষণা দিবস পালন করা</div>
<div class="a g" style="left:680.5px;top:671.0px">২৪ ডিসেম্বর, ২০০৭</div>
<div class="a g" style="left:855.5px;top:671.0px">বড়দিনের আগের দিন</div>
<div class="a g" style="left:680.5px;top:683.3px">২৫ ডিসেম্বর, ২০০৭</div>
<div class="a g" style="left:855.5px;top:683.3px">ক্রিসমাস ডে</div>
<div class="a g" style="left:680.5px;top:695.6px">২৬ ডিসেম্বর, ২০০৭</div>
<div class="a g" style="left:855.5px;top:695.6px">বড়দিনের দ্বিতীয় দিন</div>
<div class="a g" style="left:680.5px;top:708.0px">৩১ ডিসেম্বর, ২০০৭</div>
<div class="a g" style="left:855.5px;top:708.0px">নববর্ষের আগের দিন</div>
<div class="a g" style="left:680.5px;top:720.4px">১ মে, ২০০৭</div>
<div class="a g" style="left:855.5px;top:720.4px">মে দিবস</div>
</body></html>
